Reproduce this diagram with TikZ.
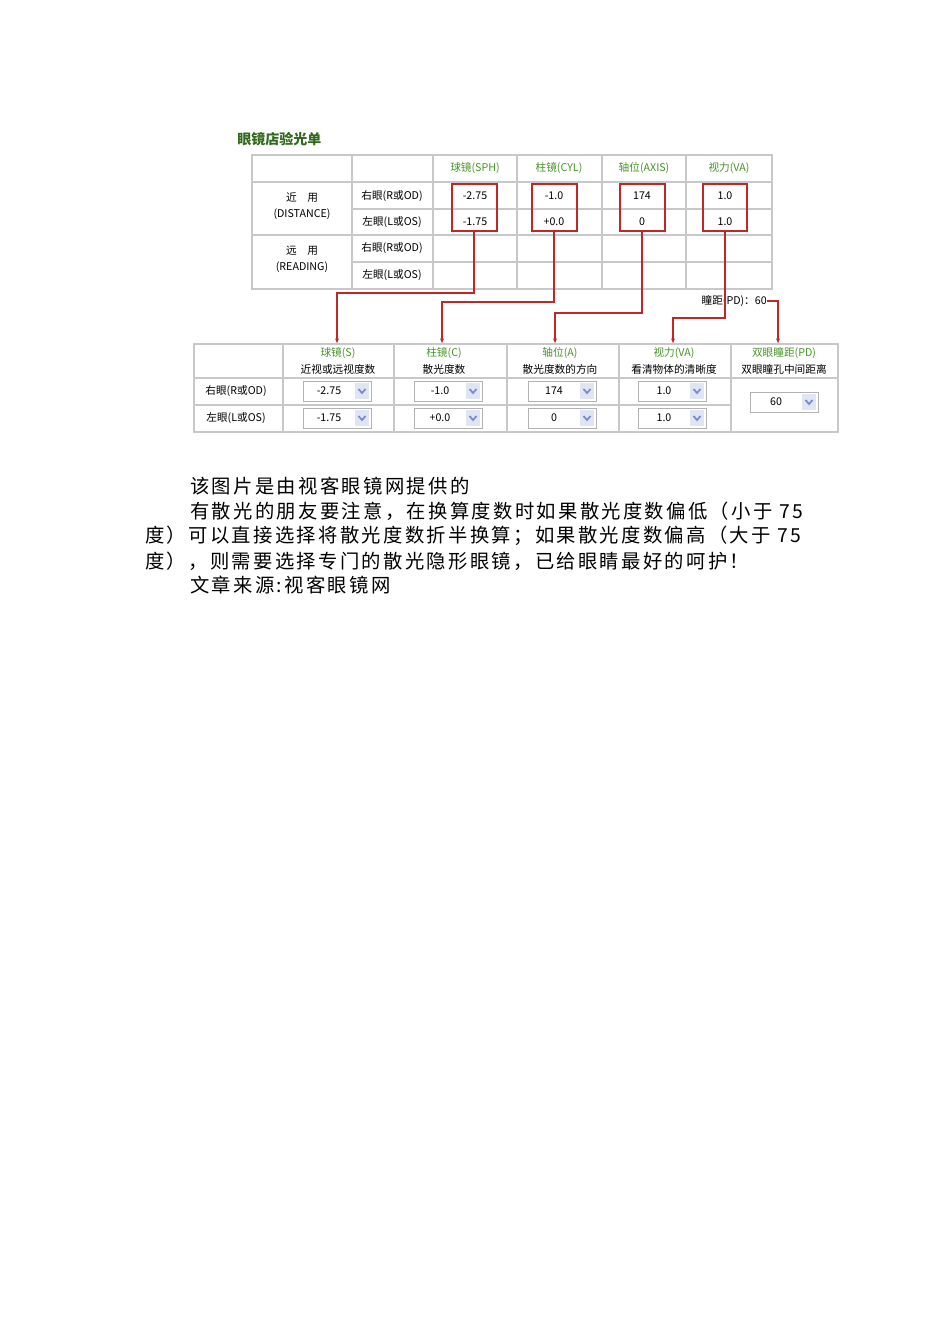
\documentclass[tikz,border=0pt]{standalone}
\usepackage{fontspec}
\setmainfont{Noto Sans CJK SC}
\newfontfamily\parafont[LetterSpace=12]{Noto Sans CJK SC}
\definecolor{tgreen}{RGB}{70,150,40}
\definecolor{tgrid}{RGB}{200,200,200}
\definecolor{tred}{RGB}{190,40,40}
\definecolor{dd}{RGB}{150,170,210}
\begin{document}
\begin{tikzpicture}[x=0.75pt,y=-0.75pt,
 sm/.style={font=\fontsize{8}{9}\selectfont,inner sep=0pt},
 gr/.style={sm,text=tgreen},
 grid/.style={draw=tgrid,line width=0.8pt},
 rbox/.style={draw=tred,line width=1pt},
 conn/.style={draw=tred,line width=0.9pt},
 arr/.style={conn,-{Latex[length=4pt,width=3pt]}},
 para/.style={font=\parafont\fontsize{14.5}{16}\selectfont,anchor=west,inner sep=0pt}]
\usetikzlibrary{arrows.meta}
\useasboundingbox (0,0) rectangle (950,1344);
\fill[white] (0,0) rectangle (950,1344);
% title
\node[anchor=west,inner sep=0pt,text=tgreen!70!black,font=\bfseries\fontsize{10.5}{12}\selectfont] (title) at (237,139) {眼镜店验光单};
% top table grid
\draw[grid] (252,155) rectangle (772,289);
\foreach \x in {352,433,517,602,686} \draw[grid] (\x,155) -- (\x,289);
\foreach \y in {182,235} \draw[grid] (252,\y) -- (772,\y);
\foreach \y in {209,262} \draw[grid] (352,\y) -- (772,\y);
\node[gr] (h1) at (475,168) {球镜(SPH)};
\node[gr] (h2) at (559,168) {柱镜(CYL)};
\node[gr] (h3) at (644,168) {轴位(AXIS)};
\node[gr] (h4) at (729,168) {视力(VA)};
\node[sm,align=center] (r1) at (302,206) {近\quad 用\\[3pt](DISTANCE)};
\node[sm,align=center] (r2) at (302,259) {远\quad 用\\[3pt](READING)};
\node[sm] (e1) at (392,196) {右眼(R或OD)};
\node[sm] (e2) at (392,222) {左眼(L或OS)};
\node[sm] (e3) at (392,248) {右眼(R或OD)};
\node[sm] (e4) at (392,275) {左眼(L或OS)};
\node[sm] (v11) at (475,196) {-2.75};
\node[sm] (v12) at (475,222) {-1.75};
\node[sm] (v21) at (554,196) {-1.0};
\node[sm] (v22) at (554,222) {+0.0};
\node[sm] (v31) at (642,196) {174};
\node[sm] (v32) at (642,222) {0};
\node[sm] (v41) at (725,196) {1.0};
\node[sm] (v42) at (725,222) {1.0};
\draw[rbox] (452,184) rectangle (497,231);
\draw[rbox] (532,184) rectangle (577,231);
\draw[rbox] (620,184) rectangle (665,231);
\draw[rbox] (703,184) rectangle (747,231);
\coordinate (b1) at (474,231); \coordinate (b2) at (554,231);
\coordinate (b3) at (642,231); \coordinate (b4) at (725,231);
\node[sm,anchor=east] (pd) at (767,301) {瞳距(PD)：60};
% bottom table
\draw[grid] (194,344) rectangle (838,432);
\foreach \x in {283,394,507,619,731} \draw[grid] (\x,344) -- (\x,432);
\draw[grid] (194,378) -- (838,378);
\draw[grid] (194,405) -- (731,405);
\node[gr] (g1) at (338,353) {球镜(S)};   \node[sm] (k1) at (338,369) {近视或远视度数};
\node[gr] (g2) at (444,353) {柱镜(C)};   \node[sm] (k2) at (444,369) {散光度数};
\node[gr] (g3) at (560,353) {轴位(A)};   \node[sm] (k3) at (560,369) {散光度数的方向};
\node[gr] (g4) at (674,353) {视力(VA)};  \node[sm] (k4) at (674,369) {看清物体的清晰度};
\node[gr] (g5) at (784,353) {双眼瞳距(PD)}; \node[sm] (k5) at (784,369) {双眼瞳孔中间距离};
\node[sm] (l1) at (236,391) {右眼(R或OD)};
\node[sm] (l2) at (236,418) {左眼(L或OS)};
\foreach \xa/\yc/\t/\n in {303/391/-2.75/d1,303/418/-1.75/d2,414/391/-1.0/d3,414/418/+0.0/d4,528/391/174/d5,528/418/0/d6,638/391/1.0/d7,638/418/1.0/d8,750/402/60/d9}{
  \draw[draw=gray!60,fill=white] (\xa,\yc-10) rectangle (\xa+68,\yc+10);
  \fill[dd!30] (\xa+52,\yc-8) rectangle (\xa+66,\yc+8);
  \draw[dd!80!blue,line width=1.3pt] (\xa+55.5,\yc-2) -- (\xa+59,\yc+2) -- (\xa+62.5,\yc-2);
  \node[sm] (\n) at (\xa+26,\yc) {\t};
}
\coordinate (t1) at (337,344); \coordinate (t2) at (442,344);
\coordinate (t3) at (555,344); \coordinate (t4) at (673,344); \coordinate (t5) at (778,344);
\draw[arr] (b1) |- (337,293) -- (t1);
\draw[arr] (b2) |- (442,302) -- (t2);
\draw[arr] (b3) |- (555,313) -- (t3);
\draw[arr] (b4) |- (673,318) -- (t4);
\draw[arr] (pd.east) -| (t5);
% paragraphs
\node[para] (p1) at (190,486) {该图片是由视客眼镜网提供的};
\node[para] (p2) at (190,511) {有散光的朋友要注意，在换算度数时如果散光度数偏低（小于 75};
\node[para] (p3) at (145,536) {度）可以直接选择将散光度数折半换算；如果散光度数偏高（大于 75};
\node[para] (p4) at (145,561) {度），则需要选择专门的散光隐形眼镜，已给眼睛最好的呵护！};
\node[para] (p5) at (190,585) {文章来源:视客眼镜网};
\end{tikzpicture}
\end{document}
